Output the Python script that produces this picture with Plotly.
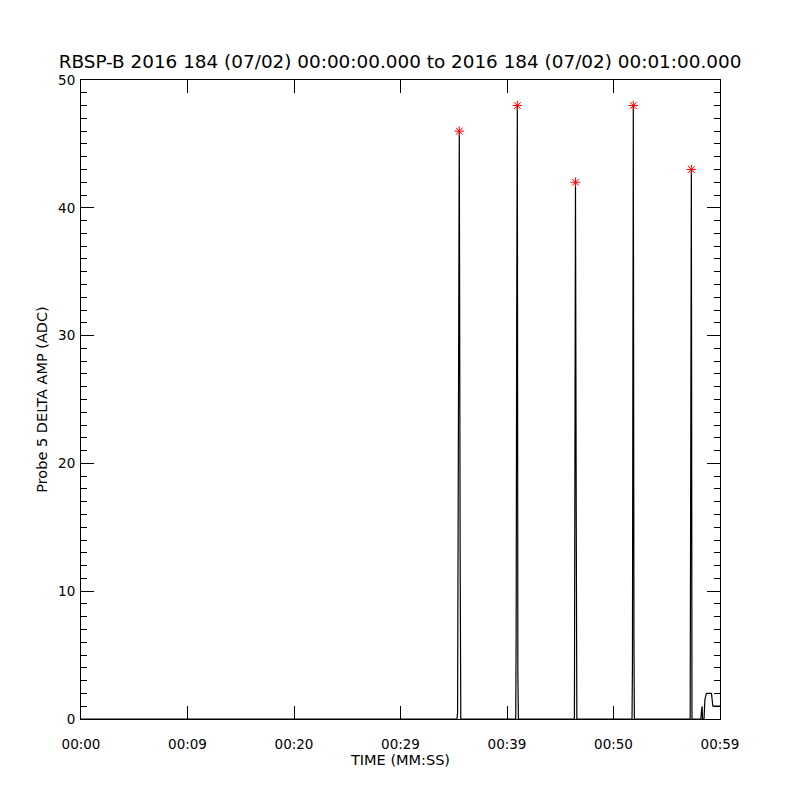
import plotly.graph_objects as go

# ---- data ----
time_s = [0.0,
          35.30, 35.36, 35.42, 35.52, 35.60, 35.66,
          40.82, 40.86, 40.91, 40.97, 41.02, 41.07,
          46.33, 46.37, 46.43, 46.50, 46.56,
          51.74, 51.78, 51.82, 51.86, 51.92, 51.96,
          57.20, 57.25, 57.31, 57.37,
          58.20, 58.25, 58.32, 58.36, 58.50, 58.58, 58.72, 59.20, 59.26, 59.33, 60.0]
amp = [0,
       0, 0.5, 23.5, 46, 13, 0,
       0, 7, 31, 48, 3.5, 0,
       0, 21, 42, 16, 0,
       0, 4.5, 28.5, 48, 6, 0,
       0, 21.5, 43, 0,
       0, 0.5, 1, 0, 0, 1.5, 2, 2, 1.5, 1, 1]

peak_time = [35.52, 40.97, 46.43, 51.86, 57.31]
peak_amp = [46, 48, 42, 48, 43]

x_tickvals = [0, 10, 20, 30, 40, 50, 60]
x_ticktext = ["00:00", "00:09", "00:20", "00:29", "00:39", "00:50", "00:59"]
y_tickvals = [0, 10, 20, 30, 40, 50]

title_text = "RBSP-B 2016 184 (07/02) 00:00:00.000 to 2016 184 (07/02) 00:01:00.000"

font = "DejaVu Sans"

fig = go.Figure()
fig.add_trace(go.Scatter(x=time_s, y=amp, mode="lines",
                         line=dict(color="black", width=1.2), showlegend=False))
fig.add_trace(go.Scatter(x=peak_time, y=peak_amp, mode="markers",
                         marker=dict(symbol="asterisk-open", size=8, color="red",
                                     line=dict(color="red", width=1)),
                         showlegend=False))

fig.update_layout(
    width=800, height=800,
    margin=dict(l=73, r=88, t=72, b=89),
    paper_bgcolor="white", plot_bgcolor="white",
    font=dict(family=font, color="black", size=13),
    title=dict(text=title_text, x=(400 - 8) / 800, xanchor="center",
               y=1 - 54/800, yanchor="middle",
               font=dict(size=18.4, family=font)),
)
fig.update_xaxes(
    range=[0, 60], tickvals=x_tickvals, ticktext=x_ticktext,
    ticks="inside", ticklen=13, tickcolor="black", tickwidth=1,
    showline=True, linecolor="black", linewidth=1, mirror="ticks",
    showgrid=False, zeroline=False, ticklabelstandoff=13,
    tickfont=dict(size=13.5),
    title=dict(text="TIME (MM:SS)", font=dict(size=14.5), standoff=0),
)
fig.update_yaxes(
    range=[0, 50], tickvals=y_tickvals,
    ticks="inside", ticklen=13, tickcolor="black", tickwidth=1,
    minor=dict(dtick=1, ticks="inside", ticklen=6, tickcolor="black", tickwidth=1),
    showline=True, linecolor="black", linewidth=1, mirror="ticks",
    showgrid=False, zeroline=False, ticklabelstandoff=2,
    tickfont=dict(size=13.5),
    title=dict(text="Probe 5 DELTA AMP (ADC)", font=dict(size=14.5), standoff=7),
)

fig.write_html("out.html")
